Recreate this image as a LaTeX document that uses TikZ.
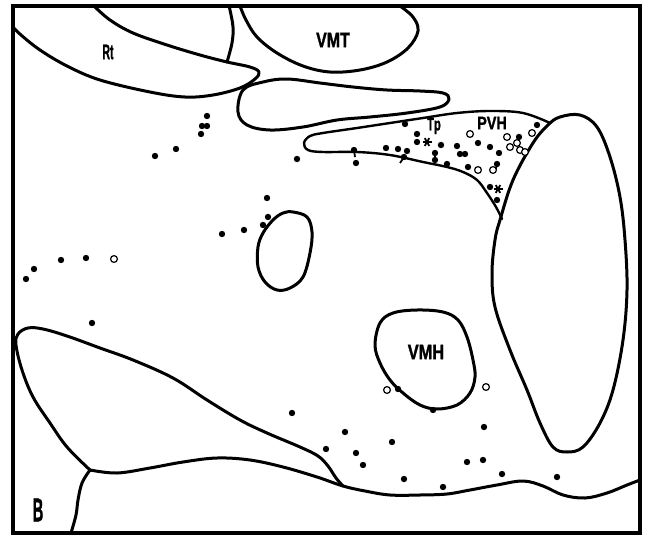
\documentclass[tikz,border=0pt]{standalone}
\usepackage{fontspec}
\setmainfont{Liberation Sans}
\newfontfamily\lbl{Liberation Sans}[BoldFeatures={FakeBold=1.6}]
\begin{document}
\begin{tikzpicture}[x=1pt,y=-1pt,
  contour/.style={line width=3pt,line join=round,line cap=round},
  thin contour/.style={line width=2.4pt,line join=round,line cap=round},
  frame/.style={line width=4.5pt},
  cell/.style={fill=black},
  opencell/.style={draw=black,line width=1.2pt,fill=white},
  area/.style={font=\lbl\bfseries\fontsize{21}{21}\selectfont,inner sep=0pt},
  small area/.style={font=\lbl\bfseries\fontsize{18}{18}\selectfont,inner sep=0pt}]
\useasboundingbox (0,0) rectangle (648,538);
\fill[white] (0,0) rectangle (648,538);

% frame of the section
\draw[frame] (13,6) rectangle (640,533);

% reticular nucleus and its upper boundary
\draw[contour] plot[smooth,tension=0.6] coordinates {(13,27) (21,35) (40,50) (67,66) (100,80) (150,92) (185,97) (213,95) (240,88) (255,79) (259,72) (250,67) (227,62) (200,55) (167,45) (133,33) (110,20) (94,6)};
\draw[contour] plot[smooth,tension=0.6] coordinates {(227,62) (232,43) (233,27) (230,10) (229,6)};

% ventromedial thalamus
\draw[contour] plot[smooth,tension=0.6] coordinates {(240,6) (246,20) (257,37) (277,53) (303,66) (330,72) (360,70) (387,62) (408,48) (418,31) (413,17) (400,6)};

% oval below VMT
\draw[contour] plot[smooth cycle,tension=0.6] coordinates {(243,90) (263,82) (287,79) (320,83) (353,87) (387,90) (420,91) (443,93) (449,99) (440,107) (407,113) (370,117) (337,120) (303,127) (270,130) (247,125) (238,112)};

% paraventricular region
\draw[thin contour] plot[smooth,tension=0.6] coordinates {(550,123) (523,113) (490,111) (457,113) (423,118) (390,123) (357,128) (323,133) (310,136) (304,143) (308,150) (323,152) (357,152) (390,155) (423,162) (447,167) (463,172) (477,180) (487,193) (496,207) (502,219)};

% large oval on the right
\draw[contour] plot[smooth cycle,tension=0.6] coordinates {(560,117) (580,115) (597,127) (610,157) (620,197) (625,240) (627,290) (623,340) (613,390) (600,423) (583,447) (567,452) (553,447) (540,423) (527,390) (510,350) (495,307) (492,273) (495,240) (500,220) (513,180) (533,143) (548,125)};

% small oval
\draw[contour] plot[smooth cycle,tension=0.6] coordinates {(293,212) (307,217) (312,232) (310,253) (303,277) (290,288) (277,290) (265,282) (258,267) (258,247) (263,233) (273,220) (283,213)};

% ventromedial hypothalamus
\draw[contour] plot[smooth cycle,tension=0.6] coordinates {(380,323) (393,313) (417,310) (443,312) (458,320) (467,337) (473,360) (475,377) (470,393) (457,405) (437,409) (420,405) (403,393) (390,380) (380,363) (375,345)};

% lower left region and base line
\draw[contour] plot[smooth,tension=0.6] coordinates {(90,470) (67,447) (50,423) (33,397) (22,370) (16,345) (18,334) (28,328) (43,329) (67,336) (100,348) (133,360) (173,378) (207,400) (240,420) (267,433) (300,447) (318,456) (328,466) (336,478) (343,486)};
\draw[contour] plot[smooth,tension=0.6] coordinates {(90,470) (117,473) (150,468) (183,462) (217,458) (250,460) (283,467) (317,477) (343,486) (365,491) (390,495) (420,495) (447,494) (470,490) (497,485) (523,481) (543,486) (563,495) (585,498) (607,493) (627,485) (640,480)};
\draw[contour] plot[smooth,tension=0.6] coordinates {(90,470) (82,483) (78,500) (76,515) (71,533)};

% filled cells
\foreach \p in {(207,116),(202,126),(207,126),(201,134),(176,149),(155,156),(297,159),
  (267,198),(268,217),(263,225),(244,230),(222,234),(86,258),(61,260),(34,269),(26,279),(92,323),
  (292,413),(326,449),(398,389),(433,410),(345,432),(392,442),(356,453),(363,465),(404,479),(443,487),
  (484,427),(467,462),(483,460),(502,474),(557,477),
  (356,163),(354,150),(386,148),(398,149),(407,151),(404,157),(405,124),(417,134),(417,142),(441,145),
  (435,153),(435,160),(447,164),(457,146),(460,154),(465,154),(468,167),(497,164),(478,143),(490,147),
  (499,153),(519,137),(537,125),(490,187),(497,200)}
  \fill[cell] \p circle (3.2pt);
% cells with a short process
\draw[line width=1.8pt] (354,150) -- (355,157);
\draw[line width=1.8pt] (404,157) -- (400,163);
\draw[line width=1.8pt] (435,153) -- (435,161);
\draw[line width=1.6pt] (497,164) -- (496,169);

% open cells
\foreach \p in {(114,259),(387,390),(486,387),(470,134),(507,137),(517,143),(510,147),(520,150),(525,152),(478,170),(493,170),(532,133)}
  \draw[opencell] \p circle (3.4pt);

% double-labelled cells
\foreach \c in {(427,142),(498,189)}
  \foreach \a in {0,60,120}
    \draw[line width=1.8pt] \c ++(\a:4.5pt) -- ++(\a+180:9pt);

% area labels
\node[area,xscale=0.5] (rt) at (108,52) {Rt};
\node[area,xscale=0.76] (vmt) at (333,40) {VMT};
\node[small area,xscale=0.62] (tp) at (434,126) {Tp};
\node[small area,xscale=0.8] (pvh) at (492,123) {PVH};
\node[area,xscale=0.78] (vmh) at (426,352) {VMH};
\node[font=\lbl\bfseries\fontsize{33}{33}\selectfont,xscale=0.45,inner sep=0pt] (panel) at (38,510) {B};
\end{tikzpicture}
\end{document}
